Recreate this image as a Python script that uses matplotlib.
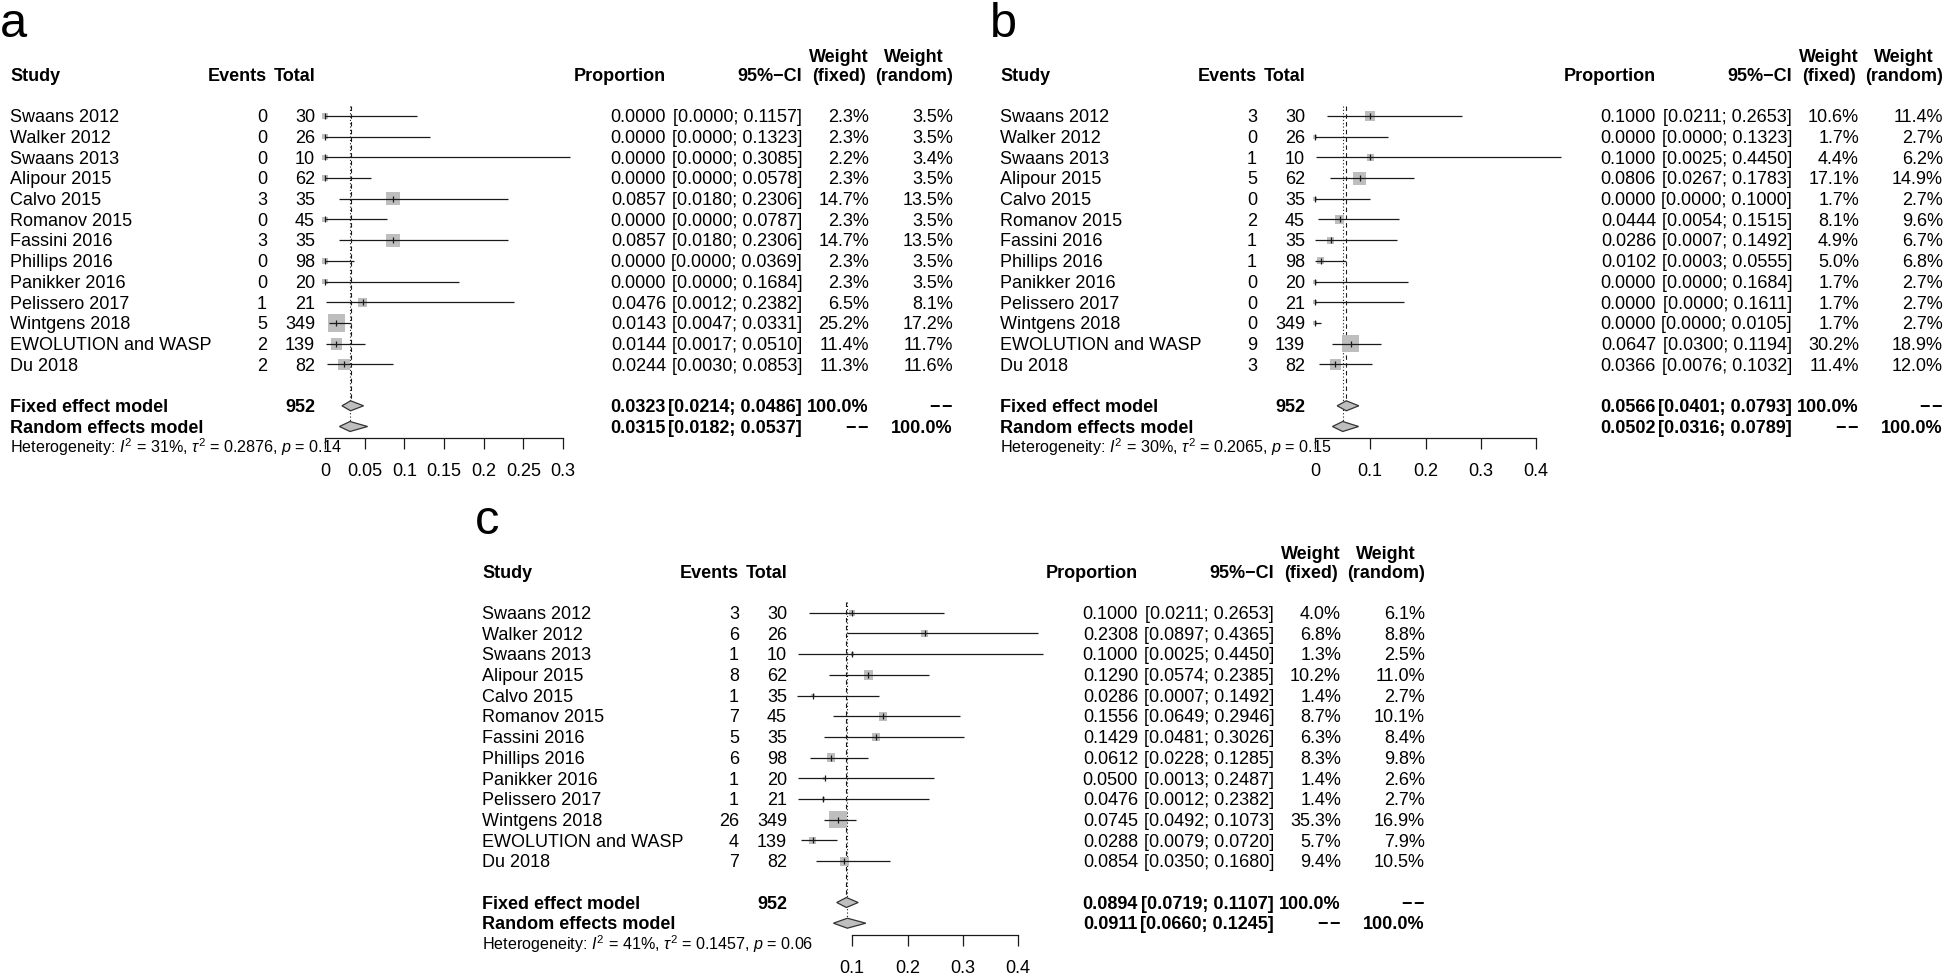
import matplotlib
matplotlib.use("Agg")
import matplotlib.pyplot as plt
from matplotlib import transforms
from matplotlib.patches import Polygon
import numpy as np

plt.rcParams['font.family'] = ['Liberation Sans', 'DejaVu Sans']
plt.rcParams['mathtext.fontset'] = 'custom'
plt.rcParams['mathtext.rm'] = 'Liberation Sans'
plt.rcParams['mathtext.it'] = 'Liberation Sans:italic'
plt.rcParams['mathtext.bf'] = 'Liberation Sans:bold'

# ---- data -------------------------------------------------------------
studies = ["Swaans 2012", "Walker 2012", "Swaans 2013", "Alipour 2015", "Calvo 2015",
           "Romanov 2015", "Fassini 2016", "Phillips 2016", "Panikker 2016",
           "Pelissero 2017", "Wintgens 2018", "EWOLUTION and WASP", "Du 2018"]
totals = [30, 26, 10, 62, 35, 45, 35, 98, 20, 21, 349, 139, 82]

# panel a
events_a = [0, 0, 0, 0, 3, 0, 3, 0, 0, 1, 5, 2, 2]
prop_a = [0.0, 0.0, 0.0, 0.0, 0.0857, 0.0, 0.0857, 0.0, 0.0, 0.0476, 0.0143, 0.0144, 0.0244]
lo_a = [0.0, 0.0, 0.0, 0.0, 0.0180, 0.0, 0.0180, 0.0, 0.0, 0.0012, 0.0047, 0.0017, 0.0030]
hi_a = [0.1157, 0.1323, 0.3085, 0.0578, 0.2306, 0.0787, 0.2306, 0.0369, 0.1684, 0.2382, 0.0331, 0.0510, 0.0853]
wf_a = [2.3, 2.3, 2.2, 2.3, 14.7, 2.3, 14.7, 2.3, 2.3, 6.5, 25.2, 11.4, 11.3]
wr_a = [3.5, 3.5, 3.4, 3.5, 13.5, 3.5, 13.5, 3.5, 3.5, 8.1, 17.2, 11.7, 11.6]
fixed_a = (0.0323, 0.0214, 0.0486)
random_a = (0.0315, 0.0182, 0.0537)
het_a = ("31%", "0.2876", "0.14")

# panel b
events_b = [3, 0, 1, 5, 0, 2, 1, 1, 0, 0, 0, 9, 3]
prop_b = [0.1000, 0.0, 0.1000, 0.0806, 0.0, 0.0444, 0.0286, 0.0102, 0.0, 0.0, 0.0, 0.0647, 0.0366]
lo_b = [0.0211, 0.0, 0.0025, 0.0267, 0.0, 0.0054, 0.0007, 0.0003, 0.0, 0.0, 0.0, 0.0300, 0.0076]
hi_b = [0.2653, 0.1323, 0.4450, 0.1783, 0.1000, 0.1515, 0.1492, 0.0555, 0.1684, 0.1611, 0.0105, 0.1194, 0.1032]
wf_b = [10.6, 1.7, 4.4, 17.1, 1.7, 8.1, 4.9, 5.0, 1.7, 1.7, 1.7, 30.2, 11.4]
wr_b = [11.4, 2.7, 6.2, 14.9, 2.7, 9.6, 6.7, 6.8, 2.7, 2.7, 2.7, 18.9, 12.0]
fixed_b = (0.0566, 0.0401, 0.0793)
random_b = (0.0502, 0.0316, 0.0789)
het_b = ("30%", "0.2065", "0.15")

# panel c
events_c = [3, 6, 1, 8, 1, 7, 5, 6, 1, 1, 26, 4, 7]
prop_c = [0.1000, 0.2308, 0.1000, 0.1290, 0.0286, 0.1556, 0.1429, 0.0612, 0.0500, 0.0476, 0.0745, 0.0288, 0.0854]
lo_c = [0.0211, 0.0897, 0.0025, 0.0574, 0.0007, 0.0649, 0.0481, 0.0228, 0.0013, 0.0012, 0.0492, 0.0079, 0.0350]
hi_c = [0.2653, 0.4365, 0.4450, 0.2385, 0.1492, 0.2946, 0.3026, 0.1285, 0.2487, 0.2382, 0.1073, 0.0720, 0.1680]
wf_c = [4.0, 6.8, 1.3, 10.2, 1.4, 8.7, 6.3, 8.3, 1.4, 1.4, 35.3, 5.7, 9.4]
wr_c = [6.1, 8.8, 2.5, 11.0, 2.7, 10.1, 8.4, 9.8, 2.6, 2.7, 16.9, 7.9, 10.5]
fixed_c = (0.0894, 0.0719, 0.1107)
random_c = (0.0911, 0.0660, 0.1245)
het_c = ("41%", "0.1457", "0.06")

ticks_a = [0, 0.05, 0.1, 0.15, 0.2, 0.25, 0.3]
ticklabels_a = ["0", "0.05", "0.1", "0.15", "0.2", "0.25", "0.3"]
ticks_b = [0, 0.1, 0.2, 0.3, 0.4]
ticklabels_b = ["0", "0.1", "0.2", "0.3", "0.4"]
ticks_c = [0.1, 0.2, 0.3, 0.4]
ticklabels_c = ["0.1", "0.2", "0.3", "0.4"]

# ---- layout -----------------------------------------------------------
W, H = 1946, 975
FS = 13.0
ROW_DY = 20.7
SQ_MAX = 17.5      # px side of the biggest square
SQ_COL = '#BEBEBE'
INK = '#1a1a1a'
DASH2 = '\u2212\u200a\u2212'

fig = plt.figure(figsize=(W / 100, H / 100), dpi=100)
canvas = fig.add_axes([0, 0, 1, 1])
canvas.set_xlim(0, W)
canvas.set_ylim(H, 0)
canvas.axis('off')


def forest(dx, dy, scale, xmax, ticks, ticklabels, events, props, lo, hi, wf, wr,
           fixed, random, het, letter):
    x0 = 325 + dx          # pixel x of proportion 0
    y1 = 116 + dy          # pixel y of first study row
    r_top, r_bot = -3, 19
    top_px = y1 + (r_top - 1) * ROW_DY
    bot_px = y1 + (r_bot - 1) * ROW_DY
    ax = fig.add_axes([x0 / W, 1 - bot_px / H, xmax * scale / W, (bot_px - top_px) / H])
    ax.set_xlim(0, xmax)
    ax.set_ylim(r_bot, r_top)
    ax.patch.set_alpha(0)
    for s in ('left', 'right', 'top'):
        ax.spines[s].set_visible(False)
    ax.set_yticks([])
    ax.spines['bottom'].set_position(('data', 16.55))
    ax.spines['bottom'].set_bounds(ticks[0], ticks[-1])
    ax.spines['bottom'].set_linewidth(0.9)
    ax.spines['bottom'].set_color(INK)
    ax.set_xticks(ticks, ticklabels)
    ax.tick_params(axis='x', length=8, width=0.9, pad=10, labelsize=FS, color=INK)

    rows = np.arange(1, len(studies) + 1)
    fix_row, ran_row, het_row = 15, 16, 17

    # columns (pixel x) and text transform: x in pixels, y in rows
    c_study, c_ev, c_tot = 10 + dx, 267 + dx, 315 + dx
    c_prop, c_ci, c_wf, c_wr = 666 + dx, 802 + dx, 869 + dx, 953 + dx
    blend = transforms.blended_transform_factory(canvas.transData, ax.transData)
    tr = transforms.offset_copy(blend, fig=fig, y=-4.5, units='points')

    def txt(x, y, s, ha='right', bold=False, size=FS):
        canvas.text(x, y, s, transform=tr, ha=ha, va='baseline', fontsize=size,
                    fontweight='bold' if bold else 'normal', color='black')

    # header
    txt(c_study, -1, "Study", ha='left', bold=True)
    txt(c_ev, -1, "Events", bold=True)
    txt(c_tot, -1, "Total", bold=True)
    txt(c_prop, -1, "Proportion", bold=True)
    txt(c_ci, -1, "95%\u2212CI", bold=True)
    for cx, lab in ((c_wf, "Weight\n(fixed)"), (c_wr, "Weight\n(random)")):
        canvas.text(cx, -1, lab, transform=tr, ha='right', va='baseline',
                    multialignment='center', fontsize=FS, fontweight='bold', linespacing=1.12)

    for r, name, e, n, p, l, h, f, rw in zip(rows, studies, events, totals, props, lo, hi, wf, wr):
        txt(c_study, r, name, ha='left')
        txt(c_ev, r, str(e))
        txt(c_tot, r, str(n))
        txt(c_prop, r, f"{p:.4f}")
        txt(c_ci, r, f"[{l:.4f}; {h:.4f}]")
        txt(c_wf, r, f"{f:.1f}%")
        txt(c_wr, r, f"{rw:.1f}%")

    txt(c_study, fix_row, "Fixed effect model", ha='left', bold=True)
    txt(c_tot, fix_row, str(sum(totals)), bold=True)
    txt(c_prop, fix_row, f"{fixed[0]:.4f}", bold=True)
    txt(c_ci, fix_row, f"[{fixed[1]:.4f}; {fixed[2]:.4f}]", bold=True)
    txt(c_wf, fix_row, "100.0%", bold=True)
    txt(c_wr, fix_row, DASH2, bold=True)
    txt(c_study, ran_row, "Random effects model", ha='left', bold=True)
    txt(c_prop, ran_row, f"{random[0]:.4f}", bold=True)
    txt(c_ci, ran_row, f"[{random[1]:.4f}; {random[2]:.4f}]", bold=True)
    txt(c_wf, ran_row, DASH2, bold=True)
    txt(c_wr, ran_row, "100.0%", bold=True)
    txt(c_study, het_row,
        r"Heterogeneity: $I^2$ = %s, $\tau^2$ = %s, $p$ = %s" % het, ha='left', size=11.6)

    # squares sized by fixed-effect weight (area proportional to weight)
    wf_arr = np.array(wf)
    side = SQ_MAX * np.sqrt(wf_arr / wf_arr.max())
    ax.scatter(props, rows, s=(side * 0.72) ** 2, marker='s', color=SQ_COL,
               linewidths=0, zorder=2, clip_on=False)
    ax.hlines(rows, lo, hi, color=INK, lw=0.9, zorder=3, clip_on=False)
    ax.plot(props, rows, ls='none', marker='|', ms=4.5, mew=0.9, color=INK,
            zorder=4, clip_on=False)

    # reference lines (fixed: dashed, random: dotted)
    hh = 5.0 / ROW_DY
    ax.vlines(fixed[0], 0.5, fix_row - hh, color=INK, lw=0.8, linestyles=(0, (4, 3)),
              zorder=1, clip_on=False)
    ax.vlines(random[0], 0.5, ran_row - hh, color=INK, lw=0.8, linestyles=(0, (1, 2)),
              zorder=1, clip_on=False)

    # diamonds
    for row, (est, l, h) in ((fix_row, fixed), (ran_row, random)):
        ax.add_patch(Polygon([(l, row), (est, row - hh), (h, row), (est, row + hh)],
                             closed=True, fc=SQ_COL, ec='#333333', lw=0.9, zorder=3, clip_on=False))

    # panel letter
    canvas.text(dx + (0 if letter != 'c' else 3), dy + 37, letter, fontsize=35, va='baseline', ha='left')


forest(0, 0, 793.3, 0.3, ticks_a, ticklabels_a, events_a, prop_a, lo_a, hi_a, wf_a, wr_a,
       fixed_a, random_a, het_a, 'a')
forest(990, 0, 552.5, 0.4, ticks_b, ticklabels_b, events_b, prop_b, lo_b, hi_b, wf_b, wr_b,
       fixed_b, random_b, het_b, 'b')
forest(472, 496.7, 552.5, 0.4, ticks_c, ticklabels_c, events_c, prop_c, lo_c, hi_c, wf_c, wr_c,
       fixed_c, random_c, het_c, 'c')

fig.savefig("out.png", dpi=100)
